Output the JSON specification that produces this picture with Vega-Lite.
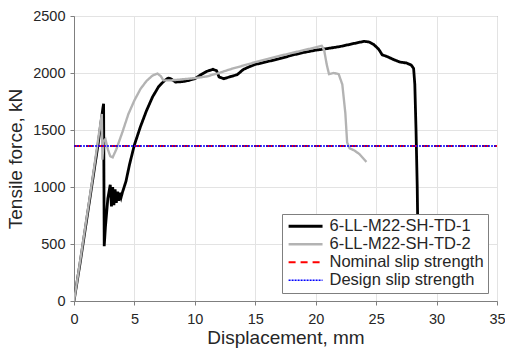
{
  "$schema": "https://vega.github.io/schema/vega-lite/v6.json",
  "width": 423,
  "height": 285,
  "autosize": {"type": "none"},
  "padding": {"left": 74, "top": 16, "right": 8, "bottom": 51},
  "background": "white",
  "config": {
    "font": "Liberation Sans",
    "view": {"stroke": "#7f7f7f", "strokeWidth": 1},
    "axis": {
      "labelFont": "Liberation Sans",
      "labelFontSize": 14.5,
      "labelColor": "#262626",
      "titleFont": "Liberation Sans",
      "titleFontSize": 19,
      "titleFontWeight": "normal",
      "titleColor": "#262626",
      "gridColor": "#e3e3e3",
      "domainColor": "#7f7f7f",
      "tickColor": "#7f7f7f",
      "tickSize": 4
    }
  },
  "data": {
    "values": [
      {"s": "6-LL-M22-SH-TD-1", "d": 0, "f": 0},
      {"s": "6-LL-M22-SH-TD-1", "d": 0.5, "f": 330},
      {"s": "6-LL-M22-SH-TD-1", "d": 1.0, "f": 680},
      {"s": "6-LL-M22-SH-TD-1", "d": 1.5, "f": 1030},
      {"s": "6-LL-M22-SH-TD-1", "d": 2.0, "f": 1380},
      {"s": "6-LL-M22-SH-TD-1", "d": 2.4, "f": 1700},
      {"s": "6-LL-M22-SH-TD-1", "d": 2.45, "f": 1730},
      {"s": "6-LL-M22-SH-TD-1", "d": 2.5, "f": 480},
      {"s": "6-LL-M22-SH-TD-1", "d": 2.6, "f": 650},
      {"s": "6-LL-M22-SH-TD-1", "d": 2.8, "f": 900},
      {"s": "6-LL-M22-SH-TD-1", "d": 3.0, "f": 1020},
      {"s": "6-LL-M22-SH-TD-1", "d": 3.1, "f": 830},
      {"s": "6-LL-M22-SH-TD-1", "d": 3.2, "f": 1000},
      {"s": "6-LL-M22-SH-TD-1", "d": 3.3, "f": 840},
      {"s": "6-LL-M22-SH-TD-1", "d": 3.4, "f": 980},
      {"s": "6-LL-M22-SH-TD-1", "d": 3.5, "f": 860},
      {"s": "6-LL-M22-SH-TD-1", "d": 3.6, "f": 960},
      {"s": "6-LL-M22-SH-TD-1", "d": 3.7, "f": 880},
      {"s": "6-LL-M22-SH-TD-1", "d": 3.8, "f": 950},
      {"s": "6-LL-M22-SH-TD-1", "d": 3.9, "f": 910},
      {"s": "6-LL-M22-SH-TD-1", "d": 4.0, "f": 950},
      {"s": "6-LL-M22-SH-TD-1", "d": 4.3, "f": 1050},
      {"s": "6-LL-M22-SH-TD-1", "d": 4.6, "f": 1200},
      {"s": "6-LL-M22-SH-TD-1", "d": 5.0, "f": 1370},
      {"s": "6-LL-M22-SH-TD-1", "d": 5.5, "f": 1530},
      {"s": "6-LL-M22-SH-TD-1", "d": 6.0, "f": 1670},
      {"s": "6-LL-M22-SH-TD-1", "d": 6.5, "f": 1790},
      {"s": "6-LL-M22-SH-TD-1", "d": 7.0, "f": 1880},
      {"s": "6-LL-M22-SH-TD-1", "d": 7.5, "f": 1935},
      {"s": "6-LL-M22-SH-TD-1", "d": 7.8, "f": 1955},
      {"s": "6-LL-M22-SH-TD-1", "d": 8.0, "f": 1950},
      {"s": "6-LL-M22-SH-TD-1", "d": 8.4, "f": 1920},
      {"s": "6-LL-M22-SH-TD-1", "d": 9.0, "f": 1925},
      {"s": "6-LL-M22-SH-TD-1", "d": 9.5, "f": 1935},
      {"s": "6-LL-M22-SH-TD-1", "d": 10.0, "f": 1950},
      {"s": "6-LL-M22-SH-TD-1", "d": 10.5, "f": 1985},
      {"s": "6-LL-M22-SH-TD-1", "d": 11.0, "f": 2015},
      {"s": "6-LL-M22-SH-TD-1", "d": 11.5, "f": 2032},
      {"s": "6-LL-M22-SH-TD-1", "d": 11.8, "f": 2020},
      {"s": "6-LL-M22-SH-TD-1", "d": 12.0, "f": 1965},
      {"s": "6-LL-M22-SH-TD-1", "d": 12.4, "f": 1950},
      {"s": "6-LL-M22-SH-TD-1", "d": 13.0, "f": 1970},
      {"s": "6-LL-M22-SH-TD-1", "d": 13.5, "f": 1985},
      {"s": "6-LL-M22-SH-TD-1", "d": 14.0, "f": 2030},
      {"s": "6-LL-M22-SH-TD-1", "d": 14.5, "f": 2055},
      {"s": "6-LL-M22-SH-TD-1", "d": 15.0, "f": 2075},
      {"s": "6-LL-M22-SH-TD-1", "d": 16.0, "f": 2100},
      {"s": "6-LL-M22-SH-TD-1", "d": 17.0, "f": 2125},
      {"s": "6-LL-M22-SH-TD-1", "d": 18.0, "f": 2155},
      {"s": "6-LL-M22-SH-TD-1", "d": 19.0, "f": 2180},
      {"s": "6-LL-M22-SH-TD-1", "d": 20.0, "f": 2200},
      {"s": "6-LL-M22-SH-TD-1", "d": 21.0, "f": 2215},
      {"s": "6-LL-M22-SH-TD-1", "d": 22.0, "f": 2232},
      {"s": "6-LL-M22-SH-TD-1", "d": 23.0, "f": 2255},
      {"s": "6-LL-M22-SH-TD-1", "d": 24.0, "f": 2278},
      {"s": "6-LL-M22-SH-TD-1", "d": 24.4, "f": 2272},
      {"s": "6-LL-M22-SH-TD-1", "d": 24.8, "f": 2250},
      {"s": "6-LL-M22-SH-TD-1", "d": 25.2, "f": 2210},
      {"s": "6-LL-M22-SH-TD-1", "d": 25.5, "f": 2160},
      {"s": "6-LL-M22-SH-TD-1", "d": 26.0, "f": 2140},
      {"s": "6-LL-M22-SH-TD-1", "d": 26.5, "f": 2115},
      {"s": "6-LL-M22-SH-TD-1", "d": 27.0, "f": 2095},
      {"s": "6-LL-M22-SH-TD-1", "d": 27.5, "f": 2088},
      {"s": "6-LL-M22-SH-TD-1", "d": 27.9, "f": 2070},
      {"s": "6-LL-M22-SH-TD-1", "d": 28.1, "f": 2040},
      {"s": "6-LL-M22-SH-TD-1", "d": 28.2, "f": 1900},
      {"s": "6-LL-M22-SH-TD-1", "d": 28.3, "f": 1500},
      {"s": "6-LL-M22-SH-TD-1", "d": 28.4, "f": 1000},
      {"s": "6-LL-M22-SH-TD-1", "d": 28.45, "f": 600},
      {"s": "6-LL-M22-SH-TD-2", "d": 0, "f": 0},
      {"s": "6-LL-M22-SH-TD-2", "d": 0.5, "f": 345},
      {"s": "6-LL-M22-SH-TD-2", "d": 1.0, "f": 700},
      {"s": "6-LL-M22-SH-TD-2", "d": 1.5, "f": 1050},
      {"s": "6-LL-M22-SH-TD-2", "d": 2.0, "f": 1420},
      {"s": "6-LL-M22-SH-TD-2", "d": 2.3, "f": 1640},
      {"s": "6-LL-M22-SH-TD-2", "d": 2.35, "f": 1240},
      {"s": "6-LL-M22-SH-TD-2", "d": 2.45, "f": 1400},
      {"s": "6-LL-M22-SH-TD-2", "d": 2.6, "f": 1420},
      {"s": "6-LL-M22-SH-TD-2", "d": 2.8, "f": 1330},
      {"s": "6-LL-M22-SH-TD-2", "d": 3.0, "f": 1270},
      {"s": "6-LL-M22-SH-TD-2", "d": 3.2, "f": 1260},
      {"s": "6-LL-M22-SH-TD-2", "d": 3.5, "f": 1330},
      {"s": "6-LL-M22-SH-TD-2", "d": 4.0, "f": 1480},
      {"s": "6-LL-M22-SH-TD-2", "d": 4.5, "f": 1640},
      {"s": "6-LL-M22-SH-TD-2", "d": 5.0, "f": 1760},
      {"s": "6-LL-M22-SH-TD-2", "d": 5.5, "f": 1860},
      {"s": "6-LL-M22-SH-TD-2", "d": 6.0, "f": 1930},
      {"s": "6-LL-M22-SH-TD-2", "d": 6.5, "f": 1978},
      {"s": "6-LL-M22-SH-TD-2", "d": 6.9, "f": 1995},
      {"s": "6-LL-M22-SH-TD-2", "d": 7.2, "f": 1970},
      {"s": "6-LL-M22-SH-TD-2", "d": 7.4, "f": 1935},
      {"s": "6-LL-M22-SH-TD-2", "d": 8.0, "f": 1935},
      {"s": "6-LL-M22-SH-TD-2", "d": 9.0, "f": 1945},
      {"s": "6-LL-M22-SH-TD-2", "d": 10.0, "f": 1955},
      {"s": "6-LL-M22-SH-TD-2", "d": 11.0, "f": 1970},
      {"s": "6-LL-M22-SH-TD-2", "d": 12.0, "f": 2000},
      {"s": "6-LL-M22-SH-TD-2", "d": 13.0, "f": 2035},
      {"s": "6-LL-M22-SH-TD-2", "d": 14.0, "f": 2065},
      {"s": "6-LL-M22-SH-TD-2", "d": 15.0, "f": 2095},
      {"s": "6-LL-M22-SH-TD-2", "d": 16.0, "f": 2122},
      {"s": "6-LL-M22-SH-TD-2", "d": 17.0, "f": 2150},
      {"s": "6-LL-M22-SH-TD-2", "d": 18.0, "f": 2175},
      {"s": "6-LL-M22-SH-TD-2", "d": 19.0, "f": 2200},
      {"s": "6-LL-M22-SH-TD-2", "d": 20.0, "f": 2225},
      {"s": "6-LL-M22-SH-TD-2", "d": 20.5, "f": 2238},
      {"s": "6-LL-M22-SH-TD-2", "d": 20.7, "f": 2200},
      {"s": "6-LL-M22-SH-TD-2", "d": 20.9, "f": 2080},
      {"s": "6-LL-M22-SH-TD-2", "d": 21.1, "f": 1990},
      {"s": "6-LL-M22-SH-TD-2", "d": 21.5, "f": 2000},
      {"s": "6-LL-M22-SH-TD-2", "d": 21.9, "f": 1990},
      {"s": "6-LL-M22-SH-TD-2", "d": 22.2, "f": 1900},
      {"s": "6-LL-M22-SH-TD-2", "d": 22.45, "f": 1650},
      {"s": "6-LL-M22-SH-TD-2", "d": 22.6, "f": 1390},
      {"s": "6-LL-M22-SH-TD-2", "d": 22.8, "f": 1340},
      {"s": "6-LL-M22-SH-TD-2", "d": 23.2, "f": 1320},
      {"s": "6-LL-M22-SH-TD-2", "d": 23.6, "f": 1290},
      {"s": "6-LL-M22-SH-TD-2", "d": 24.2, "f": 1220},
      {"s": "Nominal slip strength", "d": 0, "f": 1360},
      {"s": "Nominal slip strength", "d": 35, "f": 1360},
      {"s": "Design slip strength", "d": 0, "f": 1360},
      {"s": "Design slip strength", "d": 35, "f": 1360}
    ]
  },
  "mark": {"type": "line", "clip": true},
  "encoding": {
    "x": {
      "field": "d", "type": "quantitative",
      "scale": {"domain": [0, 35], "nice": false},
      "axis": {"values": [0, 5, 10, 15, 20, 25, 30, 35], "format": "d", "title": "Displacement, mm", "labelPadding": 7, "titlePadding": 3, "labelFlush": false}
    },
    "y": {
      "field": "f", "type": "quantitative",
      "scale": {"domain": [0, 2500], "nice": false},
      "axis": {"values": [0, 500, 1000, 1500, 2000, 2500], "format": "d", "title": "Tensile force, kN", "labelPadding": 5, "titlePadding": 7, "labelFlush": false}
    },
    "color": {
      "field": "s", "type": "nominal",
      "scale": {
        "domain": ["6-LL-M22-SH-TD-1", "6-LL-M22-SH-TD-2", "Nominal slip strength", "Design slip strength"],
        "range": ["#000000", "#b3b3b3", "#ff0000", "#0000ff"]
      },
      "legend": {
        "title": null,
        "orient": "none",
        "legendX": 208,
        "legendY": 198,
        "symbolType": "M-1,0H5",
        "symbolSize": 128,
        "labelFontSize": 16.5,
        "labelColor": "#262626",
        "labelFont": "Liberation Sans",
        "labelOffset": 27,
        "labelExpr": "datum.label + '\u00a0\u00a0\u00a0\u00a0'",
        "rowPadding": 1,
        "padding": 4,
        "fillColor": "white",
        "strokeColor": "#7f7f7f",
        "cornerRadius": 0
      }
    },
    "strokeDash": {
      "field": "s", "type": "nominal",
      "scale": {
        "domain": ["6-LL-M22-SH-TD-1", "6-LL-M22-SH-TD-2", "Nominal slip strength", "Design slip strength"],
        "range": [[1, 0], [1, 0], [7, 5], [2, 1]]
      },
      "legend": null
    },
    "strokeWidth": {
      "field": "s", "type": "nominal",
      "scale": {
        "domain": ["6-LL-M22-SH-TD-1", "6-LL-M22-SH-TD-2", "Nominal slip strength", "Design slip strength"],
        "range": [2.8, 1.5, 1.3, 1.5]
      },
      "legend": null
    },
    "order": {"field": "d", "type": "quantitative"}
  }
}
